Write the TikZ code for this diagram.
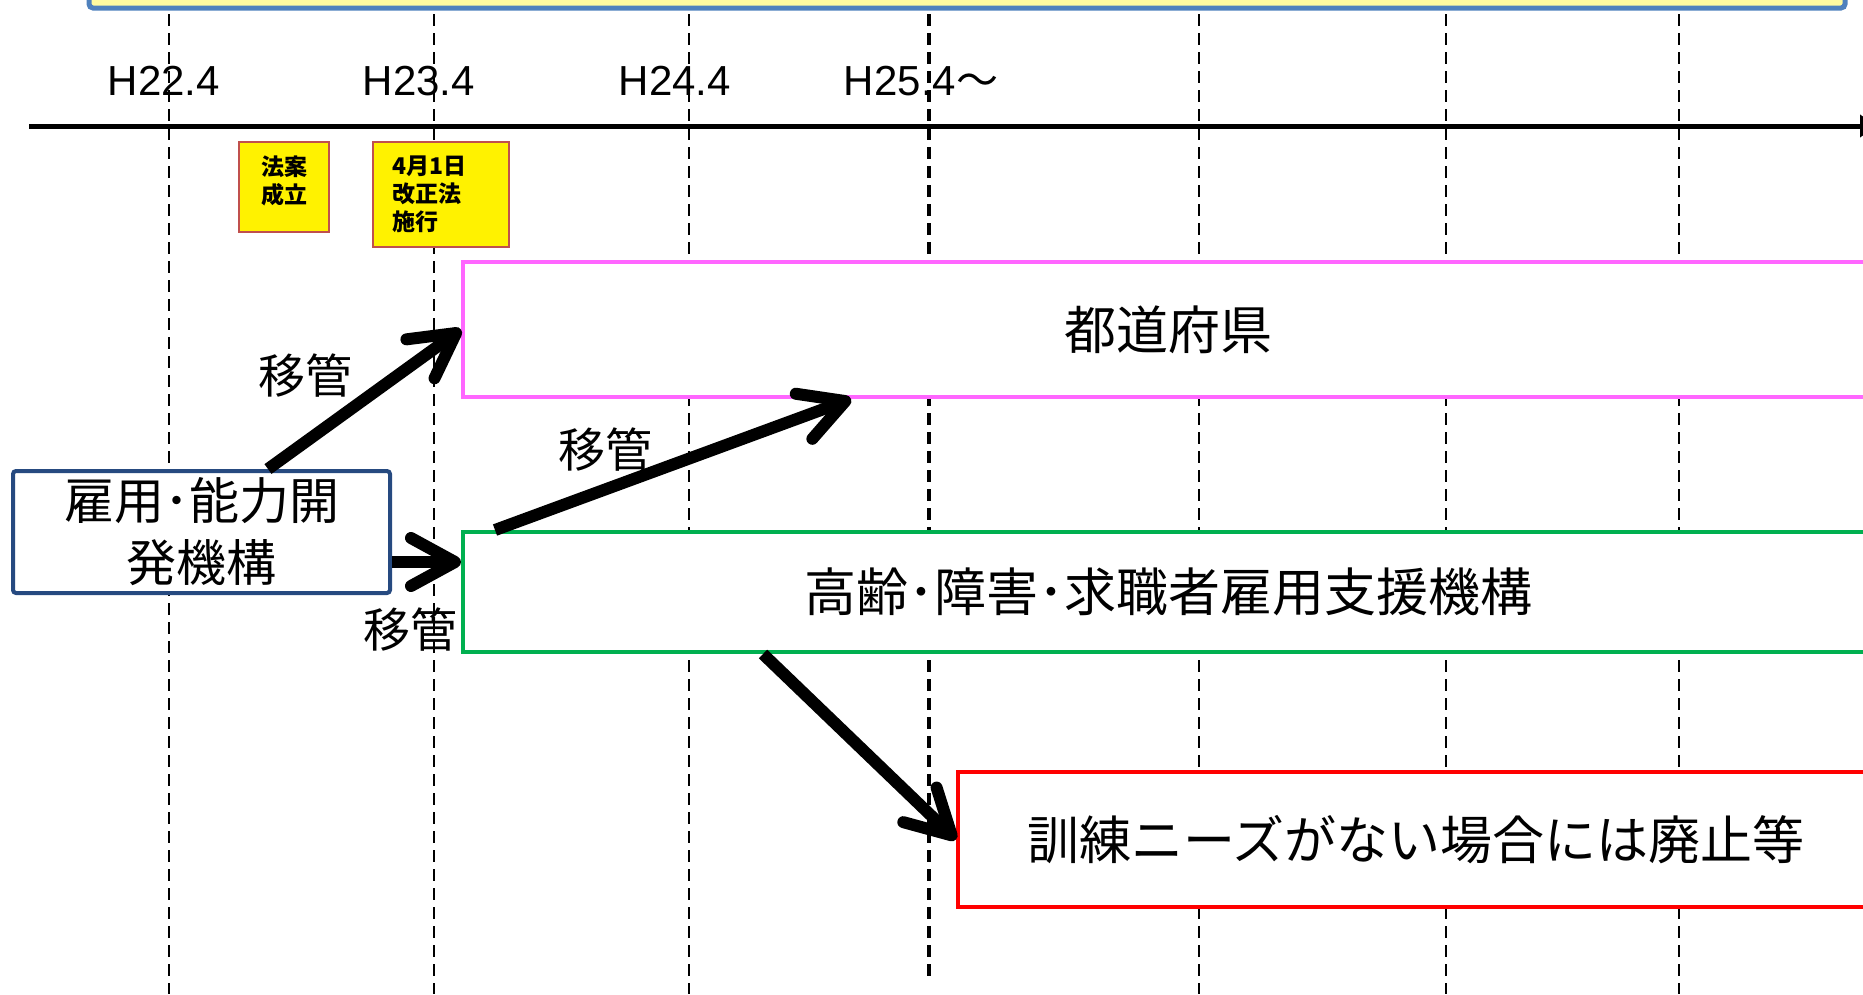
\documentclass[tikz,border=0pt]{standalone}
\usepackage{fontspec}
\usepackage{xcolor}
\setmainfont{Liberation Sans}
\newfontfamily\jp{Noto Sans CJK JP}
\usetikzlibrary{arrows.meta}

\definecolor{framepink}{RGB}{255,102,255}
\definecolor{framegreen}{RGB}{0,176,80}
\definecolor{frameblue}{RGB}{38,74,128}
\definecolor{topblue}{RGB}{79,129,189}
\definecolor{topfill}{RGB}{255,250,160}
\definecolor{notered}{RGB}{192,80,77}

\tikzset{
  orgbox/.style={draw, line width=4pt, fill=white, inner sep=0pt, font=\jp\fontsize{52pt}{52pt}\selectfont},
  notebox/.style={draw=notered, line width=2.5pt, fill=yellow, inner sep=0pt, font=\jp\bfseries\fontsize{23pt}{28pt}\selectfont},
  transfer/.style={line width=12pt, -{Straight Barb[round, length=44pt, width=48pt]}},
  yearline/.style={dash pattern=on 12pt off 7pt, line width=2.5pt},
  movelabel/.style={font=\jp\fontsize{47pt}{47pt}\selectfont, inner sep=0pt},
  yearlabel/.style={font=\fontsize{42pt}{42pt}\selectfont, anchor=base, inner sep=0pt}
}

\begin{document}
\begin{tikzpicture}[x=1pt, y=-1pt]
    \useasboundingbox (0,0) rectangle (1863,994);
    \clip (0,0) rectangle (1863,994);

    % Box cut off at the top
    \draw[draw=topblue, fill=topfill, line width=5pt, rounded corners=4pt] (89,-40) rectangle (1845,8);

    % Dashed year lines
    \foreach \x in {169,434,689,1199,1446,1679}
        \draw[yearline] (\x,14) -- (\x,994);
    \draw[yearline, line width=3.5pt] (929,14) -- (929,980);

    % Time axis and years
    \draw[line width=5pt, -{Triangle[length=16pt, width=22pt]}] (29,126) -- (1876,126);
    \node[yearlabel] (y22) at (164,95) {H22.4};
    \node[yearlabel] (y23) at (419,95) {H23.4};
    \node[yearlabel] (y24) at (675,95) {H24.4};
    \node[yearlabel] (y25) at (921,95) {H25.4{\jp ～}};

    % Notes on the axis
    \node[notebox, minimum width=90pt, minimum height=90pt, inner ysep=0pt, text depth=14pt, align=center] (houan) at (284,187) {法案\\成立};
    \node[notebox, minimum width=136pt, minimum height=105pt, inner xsep=19pt, text width=98pt, align=left] (shikou) at (441,194.5) {4月1日\\改正法\\施行};

    % Organisations
    \node[orgbox, draw=frameblue, rounded corners=3pt, minimum width=377pt, minimum height=122pt, align=center,
          font=\jp\fontsize{50pt}{62pt}\selectfont] (kikou) at (201.5,532) {雇用･能力開\\発機構};
    \node[orgbox, draw=framepink, minimum width=1410pt, minimum height=135pt] (todofuken) at (1168,329.5) {都道府県};
    \node[orgbox, draw=framegreen, minimum width=1410pt, minimum height=120pt] (koureisha) at (1168,592) {高齢･障害･求職者雇用支援機構};
    \node[orgbox, draw=red, minimum width=916pt, minimum height=135pt] (haishi) at (1416,839.5) {訓練ニーズがない場合には廃止等};

    % Transfers
    \draw[transfer] ([xshift=257pt]kikou.north west) -- (todofuken.west);
    \draw[transfer] ([yshift=-30pt]kikou.east) -- ([yshift=30pt]koureisha.west);
    \draw[transfer] ([xshift=34pt]koureisha.north west) -- ([xshift=390pt]todofuken.south west);
    \draw[transfer] ([xshift=302pt]koureisha.south west) -- (haishi.west);

    % Labels of the transfers
    \node[movelabel] (ikan1) at (305,376) {移管};
    \node[movelabel] (ikan2) at (605,450) {移管};
    \node[movelabel] (ikan3) at (410,630) {移管};
\end{tikzpicture}
\end{document}
